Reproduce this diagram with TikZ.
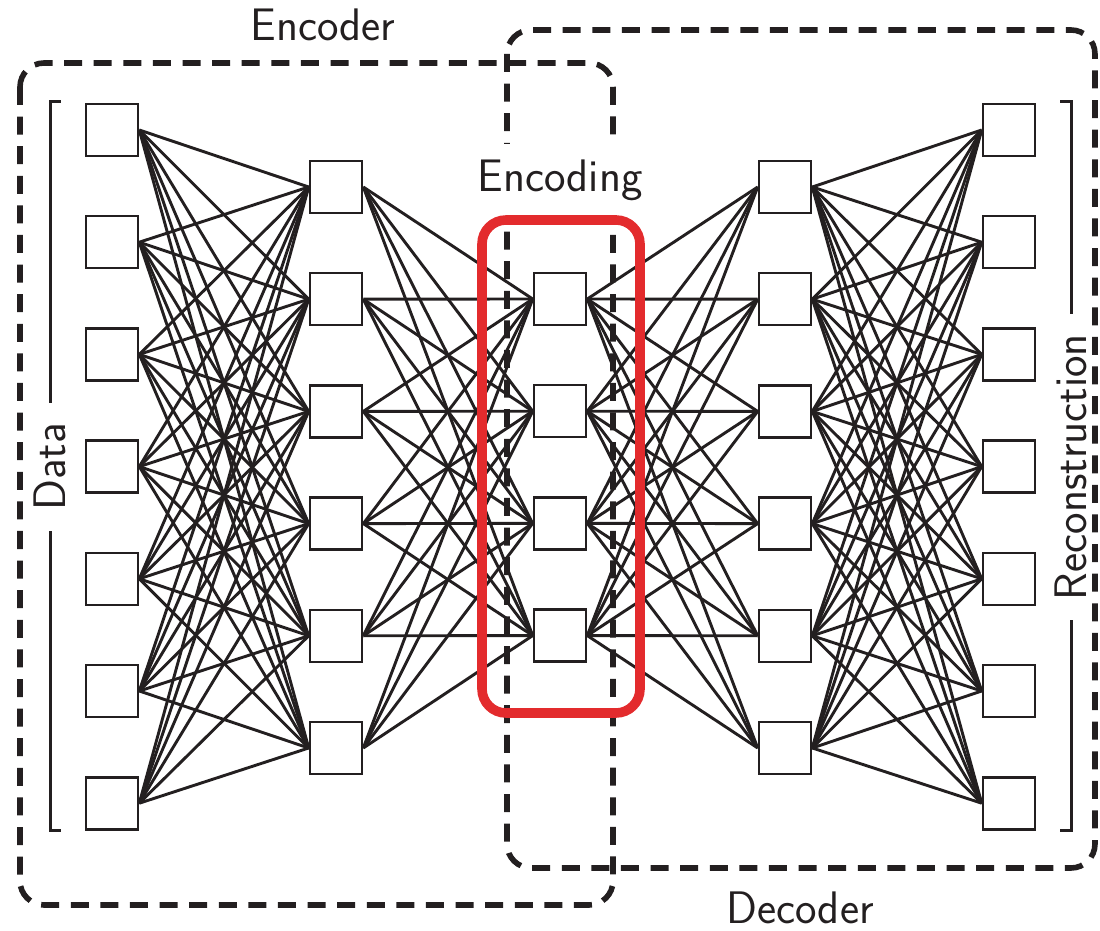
\documentclass[tikz,border=0pt]{standalone}
\usetikzlibrary{positioning}
\definecolor{aeInk}{HTML}{231F20}
\definecolor{aeRed}{HTML}{E32B2D}
\tikzset{
  ae unit/.style={draw=aeInk, fill=white, line width=1.3pt, minimum size=26pt, inner sep=0pt},
  ae link/.style={draw=aeInk, line width=1.45pt},
  ae group/.style={
    draw=aeInk,
    line width=2.8pt,
    dash pattern=on 9pt off 5.8pt,
    rounded corners=12pt
  },
  ae code/.style={draw=aeRed, line width=4.8pt, rounded corners=12pt},
  ae bracket/.style={draw=aeInk, line width=1.5pt},
  ae label/.style={font=\sffamily\fontsize{22.8}{27}\selectfont, text=aeInk, inner sep=1pt},
  ae side label/.style={ae label, rotate=90, inner xsep=10pt, inner ysep=0pt}
}

\begin{document}
\begin{tikzpicture}[x=.5pt,y=-.5pt]
  \useasboundingbox (0,0) rectangle (1100,931);

  % units of each layer
  \foreach \i in {1,...,7}
    \node[ae unit] (d\i) at (112,{130+112.2*(\i-1)}) {};
  \foreach \i in {1,...,6}
    \node[ae unit] (h\i) at (336,{187+112.2*(\i-1)}) {};
  \foreach \i in {1,...,4}
    \node[ae unit] (c\i) at (560,{299+112.2*(\i-1)}) {};
  \foreach \i in {1,...,6}
    \node[ae unit] (g\i) at (785,{187+112.2*(\i-1)}) {};
  \foreach \i in {1,...,7}
    \node[ae unit] (r\i) at (1009,{130+112.2*(\i-1)}) {};

  % full connections between layers
  \foreach \i in {1,...,7}
    \foreach \j in {1,...,6}
      \draw[ae link] (d\i.east) -- (h\j.west);
  \foreach \i in {1,...,6}
    \foreach \j in {1,...,4}
      \draw[ae link] (h\i.east) -- (c\j.west);
  \foreach \i in {1,...,4}
    \foreach \j in {1,...,6}
      \draw[ae link] (c\i.east) -- (g\j.west);
  \foreach \i in {1,...,6}
    \foreach \j in {1,...,7}
      \draw[ae link] (g\i.east) -- (r\j.west);

  % encoder / decoder frames
  \draw[ae group] (20,63) rectangle (613,905);
  \draw[ae group] (507,30) rectangle (1095,868);

  \node[ae label] (encoder) at (323,25) {Encoder};
  \node[ae label] (decoder) at (800,908) {Decoder};
  \node[ae label, fill=white, inner sep=8pt] (encoding) at (560,180) {Encoding};
  \draw[ae code] (482,220) rectangle (640,713);

  % side brackets
  \node[ae side label] (data) at (50,467) {Data};
  \node[ae side label] (recon) at (1071,467) {Reconstruction};
  \draw[ae bracket] (data.east) |- (61,102);
  \draw[ae bracket] (data.west) |- (61,830);
  \draw[ae bracket] (recon.east) |- (1060,102);
  \draw[ae bracket] (recon.west) |- (1060,830);
\end{tikzpicture}
\end{document}
